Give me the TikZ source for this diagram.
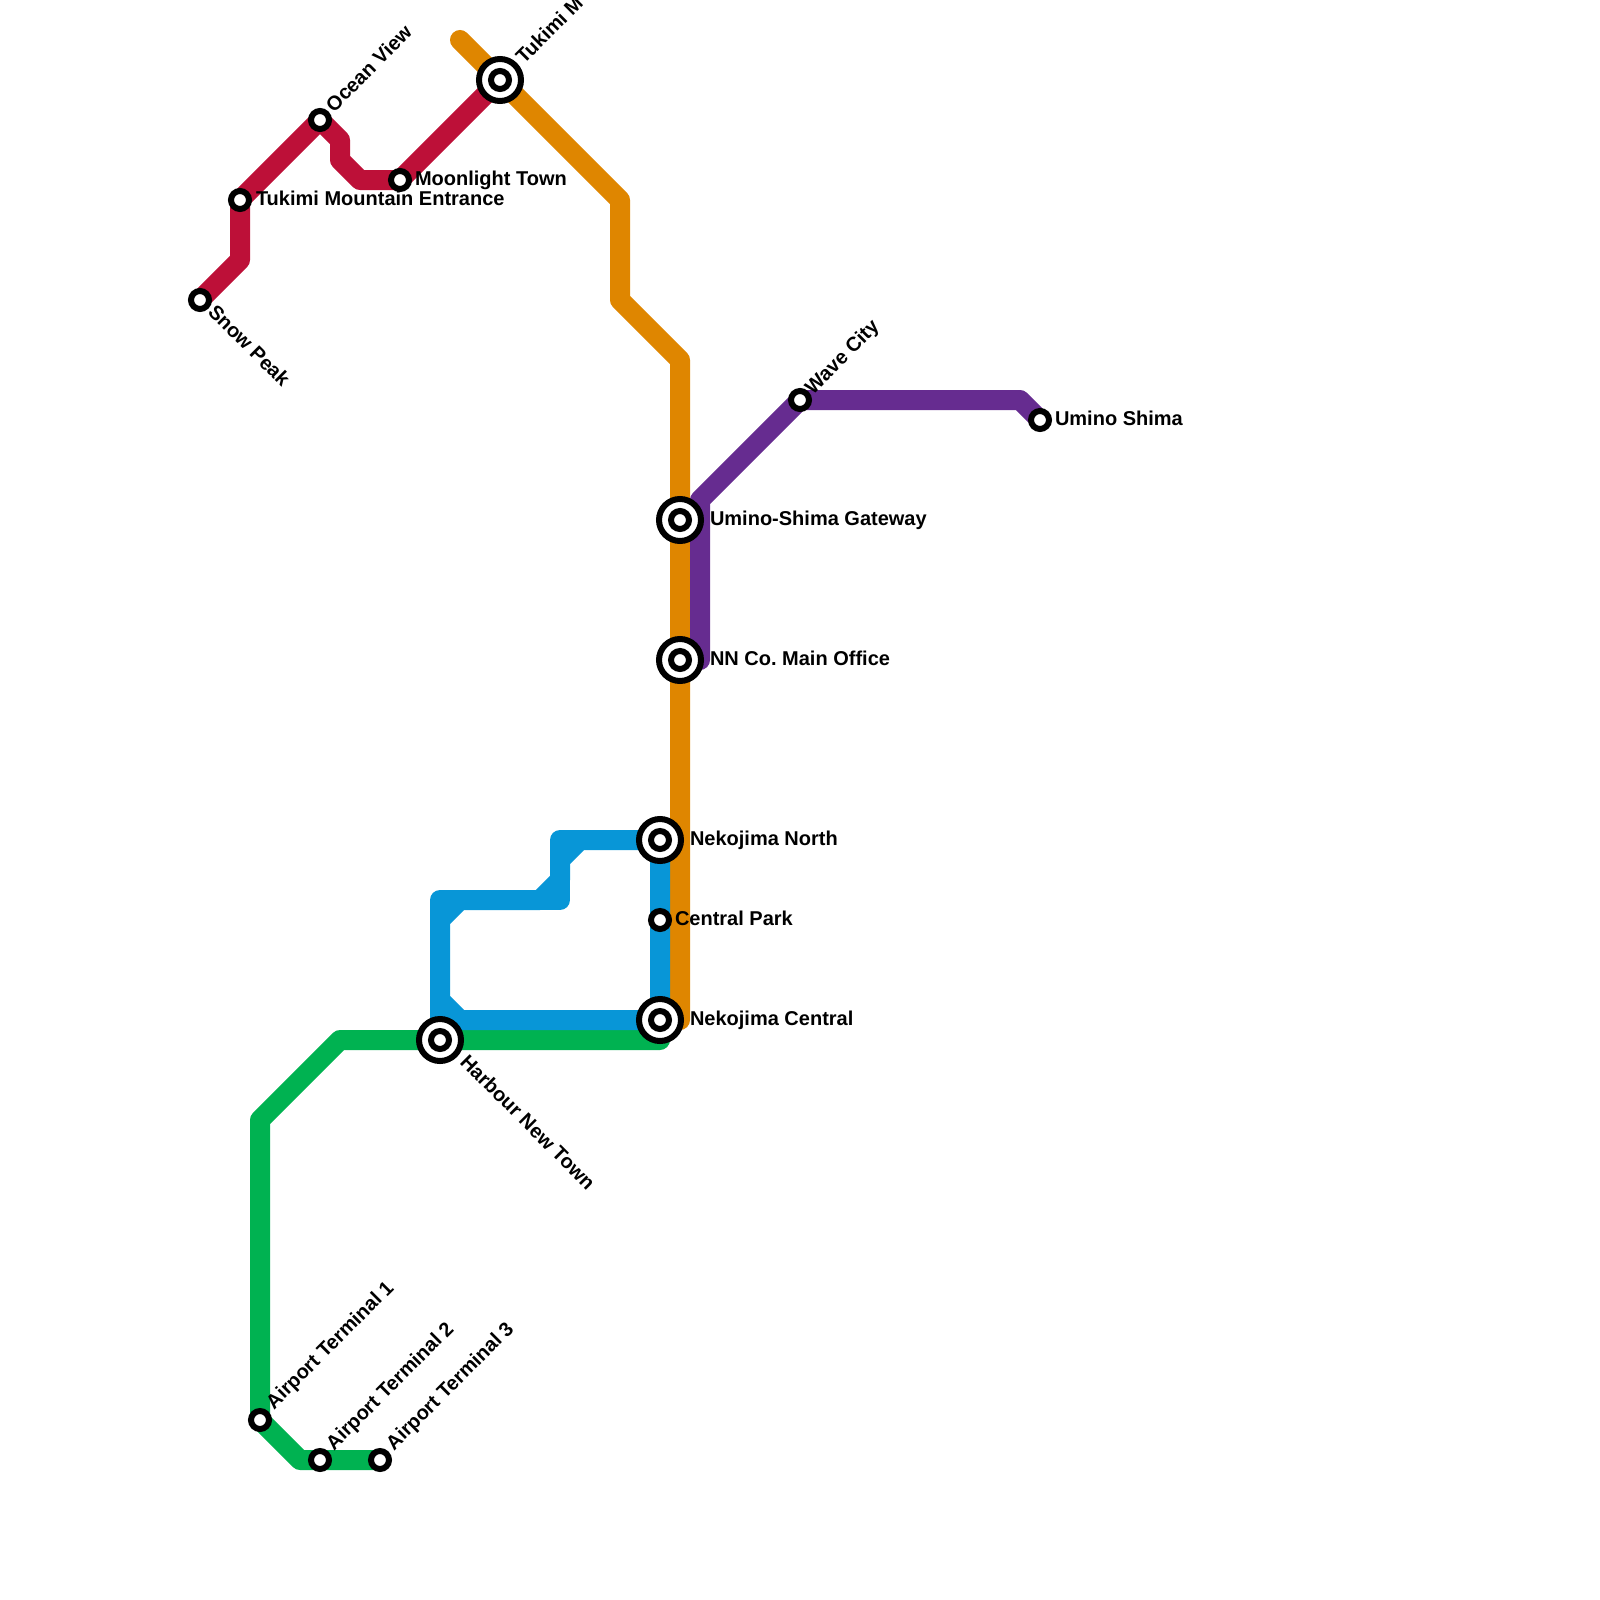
\documentclass[tikz,border=0pt]{standalone}
\usepackage{fontspec}
\setmainfont{Liberation Sans}
\usetikzlibrary{backgrounds}
\definecolor{lred}{HTML}{BD1038}
\definecolor{lorange}{HTML}{DF8600}
\definecolor{lpurple}{HTML}{662C90}
\definecolor{lblue}{HTML}{0896D7}
\definecolor{lgreen}{HTML}{00B251}
\tikzset{
  x=0.5pt,y=-0.5pt,
  metro/.style={line width=10pt,line cap=round,line join=round},
  smallst/.style={circle,draw=black,fill=white,line width=3pt,minimum size=9pt,inner sep=0pt,outer sep=0pt},
  bigst/.style={circle,draw=black,fill=white,line width=3pt,minimum size=21pt,inner sep=0pt,outer sep=0pt,
     label={[smallst]center:{}}},
  lab/.style={font=\bfseries\fontsize{10}{11}\selectfont\frenchspacing,text=black,inner sep=0pt,outer sep=0pt,anchor=base west},
  labup/.style={lab,rotate=45},
  labdown/.style={lab,rotate=-45},
}
\begin{document}
\begin{tikzpicture}
\useasboundingbox (0,0) rectangle (1600,1600);
% stations
\node[smallst] (snow) at (200,300) {};
\node[smallst] (entrance) at (240,200) {};
\node[smallst] (ocean) at (320,120) {};
\node[smallst] (moon) at (400,180) {};
\node[bigst] (tukimi) at (500,80) {};
\node[bigst] (gateway) at (680,520) {};
\node[bigst] (office) at (680,660) {};
\node[smallst] (wave) at (800,400) {};
\node[smallst] (shima) at (1040,420) {};
\node[bigst] (north) at (660,840) {};
\node[smallst] (park) at (660,920) {};
\node[bigst] (central) at (660,1020) {};
\node[bigst] (harbour) at (440,1040) {};
\node[smallst] (t1) at (260,1420) {};
\node[smallst] (t2) at (320,1460) {};
\node[smallst] (t3) at (380,1460) {};
% free ends and bends
\coordinate (oend) at (460,40);
\coordinate (oendb) at (680,1020);
\coordinate (pend) at (700,660);
% lines
\begin{scope}[on background layer]
\draw[metro,lorange] (oend) -- (620,200) -- (620,300) -- (680,360) -- (oendb);
\draw[metro,lred] (snow.center) -- (240,260) -- (entrance.center) -- (ocean.center) -- (340,140) -- (340,160) -- (360,180) -- (moon.center) -- (tukimi.center);
\draw[metro,lpurple] (shima.center) -- (1020,400) -- (wave.center) -- (700,500) -- (pend);
\draw[metro,lgreen] (t3.center) -- (300,1460) -- (t1.center) -- (260,1120) -- (340,1040) -- (harbour.center) -- (660,1040);
\draw[metro,lblue] (north.center) -- (560,840) -- (560,900) -- (440,900) -- (harbour.center);
\draw[metro,lblue] (north.center) -- (580,840) -- (560,860) -- (560,880) -- (540,900) -- (460,900) -- (440,920) -- (440,1000) -- (460,1020) -- (central.center) -- (park.center) -- (north.center);
\end{scope}
% labels
\node[labdown] (snowl) at (207,313) {Snow Peak};
\node[lab] (entrancel) at (256,205) {Tukimi Mountain Entrance};
\node[labup] (oceanl) at (334,113) {Ocean View};
\node[lab] (moonl) at (415,185) {Moonlight Town};
\node[labup] (tukimil) at (524,65) {Tukimi M};
\node[lab] (gatewayl) at (710,525) {Umino-Shima Gateway};
\node[lab] (officel) at (710,665) {NN Co. Main Office};
\node[labup] (wavel) at (813,395) {Wave City};
\node[lab] (shimal) at (1055,425) {Umino Shima};
\node[lab] (northl) at (690,845) {Nekojima North};
\node[lab] (parkl) at (675,925) {Central Park};
\node[lab] (centrall) at (690,1025) {Nekojima Central};
\node[labdown] (harbourl) at (459,1063) {Harbour New Town};
\node[labup] (t1l) at (274,1410) {Airport Terminal 1};
\node[labup] (t2l) at (334,1451) {Airport Terminal 2};
\node[labup] (t3l) at (394,1451) {Airport Terminal 3};
\end{tikzpicture}
\end{document}
